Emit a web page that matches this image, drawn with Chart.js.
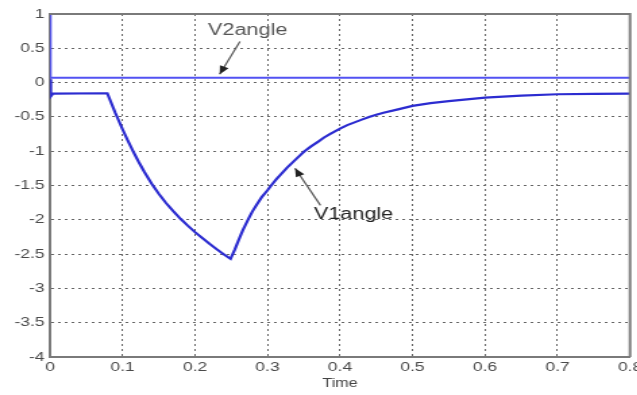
<!DOCTYPE html>
<html>
<head>
<meta charset="utf-8">
<script src="https://cdn.jsdelivr.net/npm/chart.js@4/dist/chart.umd.min.js"></script>
<style>
html,body{margin:0;padding:0;background:#fff;overflow:hidden;}
#wrap{width:637px;height:395px;position:relative;overflow:hidden;}
#c{position:absolute;left:0;top:0;transform-origin:0 0;transform:scaleX(1.35);}
</style>
</head>
<body>
<div id="wrap"><canvas id="c" width="472" height="395"></canvas></div>
<script>
// ---- data ----
const time1 = [0, 0.001, 0.004, 0.079, 0.085, 0.09, 0.095, 0.1, 0.107, 0.115, 0.122, 0.13, 0.14, 0.15, 0.16, 0.17, 0.18, 0.19, 0.2, 0.21, 0.22, 0.23, 0.24, 0.249,
  0.255, 0.26, 0.266, 0.273, 0.279, 0.285, 0.292, 0.3, 0.305, 0.312, 0.32, 0.327, 0.335, 0.343, 0.351, 0.36, 0.37, 0.378, 0.386, 0.4, 0.41, 0.42, 0.43, 0.44, 0.45, 0.46, 0.48, 0.5, 0.525, 0.55, 0.575, 0.6, 0.65, 0.7, 0.75, 0.8];
const v1angle = [0.05, -0.2, -0.16, -0.155, -0.31, -0.44, -0.56, -0.68, -0.84, -1.01, -1.15, -1.3, -1.47, -1.62, -1.755, -1.875, -1.985, -2.085, -2.18, -2.265, -2.35, -2.43, -2.505, -2.57,
  -2.43, -2.3, -2.15, -2.0, -1.88, -1.78, -1.67, -1.57, -1.5, -1.41, -1.32, -1.24, -1.16, -1.08, -1.0, -0.93, -0.86, -0.8, -0.75, -0.67, -0.62, -0.58, -0.54, -0.5, -0.47, -0.44, -0.39, -0.34, -0.3, -0.27, -0.245, -0.22, -0.19, -0.17, -0.165, -0.16];
const time2 = [0, 0.0005, 0.8];
const v2angle = [1, 0.07, 0.07];
const xTicks = [0, 0.1, 0.2, 0.3, 0.4, 0.5, 0.6, 0.7, 0.8];
const yTicks = [1, 0.5, 0, -0.5, -1, -1.5, -2, -2.5, -3, -3.5, -4];
const seriesNames = ['V1angle', 'V2angle'];
const xTitle = 'Time';

const FONT = '"Liberation Sans", Arial, sans-serif';

const annot = {
  id: 'annot',
  afterDraw(chart) {
    const ctx = chart.ctx, a = chart.chartArea;
    const xs = chart.scales.x, ys = chart.scales.y;
    ctx.save();
    // box (top & right)
    ctx.strokeStyle = '#7a7a7a';
    ctx.lineWidth = 2;
    ctx.beginPath();
    ctx.moveTo(a.left, a.top); ctx.lineTo(a.right, a.top); ctx.lineTo(a.right, a.bottom);
    ctx.stroke();
    // x title
    ctx.fillStyle = '#444';
    ctx.font = '12px ' + FONT;
    ctx.textAlign = 'center';
    ctx.textBaseline = 'middle';
    ctx.fillText(xTitle, (a.left + a.right) / 2, 384);
    // annotations
    function arrow(x0, y0, x1, y1) {
      ctx.strokeStyle = '#555'; ctx.fillStyle = '#222'; ctx.lineWidth = 1.2;
      ctx.beginPath(); ctx.moveTo(x0, y0); ctx.lineTo(x1, y1); ctx.stroke();
      const ang = Math.atan2(y1 - y0, x1 - x0), L = 9, W = 0.4;
      ctx.beginPath();
      ctx.moveTo(x1, y1);
      ctx.lineTo(x1 - L * Math.cos(ang - W), y1 - L * Math.sin(ang - W));
      ctx.lineTo(x1 - L * Math.cos(ang + W), y1 - L * Math.sin(ang + W));
      ctx.closePath(); ctx.fill();
    }
    ctx.font = '16px ' + FONT;
    ctx.fillStyle = '#555';
    ctx.textAlign = 'left';
    ctx.fillText(seriesNames[1], xs.getPixelForValue(0.218), ys.getPixelForValue(0.76));
    arrow(xs.getPixelForValue(0.262), ys.getPixelForValue(0.6), xs.getPixelForValue(0.234), ys.getPixelForValue(0.12));
    ctx.fillText(seriesNames[0], xs.getPixelForValue(0.364), ys.getPixelForValue(-1.93));
    arrow(xs.getPixelForValue(0.373), ys.getPixelForValue(-1.79), xs.getPixelForValue(0.338), ys.getPixelForValue(-1.25));
    ctx.restore();
  }
};

const fmt = v => String(parseFloat(Number(v).toFixed(2)));
const S = 1.35;

new Chart(document.getElementById('c'), {
  type: 'line',
  data: {
    datasets: [
      { label: seriesNames[1], data: time2.map((t, i) => ({ x: t, y: v2angle[i] })), borderColor: '#5252f2', borderWidth: 2, pointRadius: 0, tension: 0, fill: false },
      { label: seriesNames[0], data: time1.map((t, i) => ({ x: t, y: v1angle[i] })), borderColor: '#2c2cd0', borderWidth: 2.2, pointRadius: 0, tension: 0, fill: false }
    ]
  },
  options: {
    responsive: false,
    animation: false,
    events: [],
    layout: { padding: { left: 0, top: 14, right: 472 - 630 / S, bottom: 0 } },
    plugins: { legend: { display: false }, tooltip: { enabled: false } },
    scales: {
      x: {
        type: 'linear', min: 0, max: 0.8,
        afterBuildTicks: s => { s.ticks = xTicks.map(v => ({ value: v })); },
        afterFit: s => { s.height = 38; s.paddingLeft = 0; s.paddingRight = 0; },
        grid: { color: '#666', lineWidth: 1, drawTicks: false },
        border: { display: true, color: '#7a7a7a', width: 2, dash: [2, 3] },
        ticks: { color: '#4a4a4a', font: { family: FONT, size: 13 }, padding: 3, maxRotation: 0, autoSkip: false, callback: fmt }
      },
      y: {
        type: 'linear', min: -4, max: 1,
        afterBuildTicks: s => { s.ticks = yTicks.slice().reverse().map(v => ({ value: v })); },
        afterFit: s => { s.width = 50 / S; s.paddingTop = 0; s.paddingBottom = 0; },
        grid: { color: '#666', lineWidth: 1, drawTicks: false },
        border: { display: true, color: '#7a7a7a', width: 2, dash: [2, 3] },
        ticks: { color: '#4a4a4a', font: { family: FONT, size: 13 }, padding: 4, autoSkip: false, callback: fmt }
      }
    }
  },
  plugins: [annot]
});
</script>
</body>
</html>
